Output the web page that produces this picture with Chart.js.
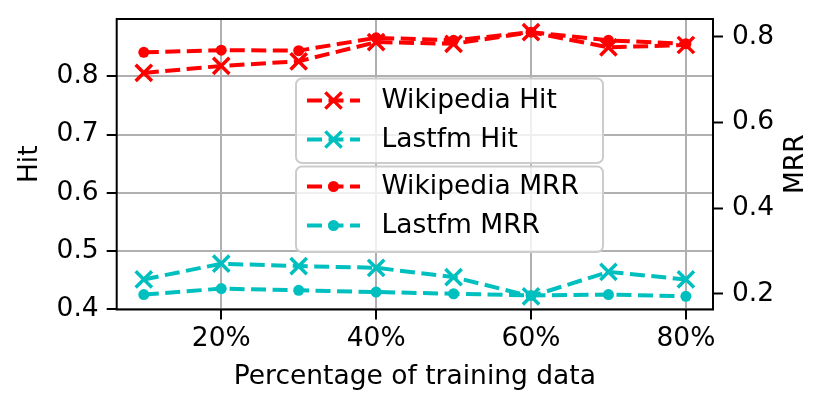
<!DOCTYPE html>
<html lang="en">
<head>
    <meta charset="UTF-8">
    <title>Hit / MRR vs training data</title>
    <script src="https://cdn.jsdelivr.net/npm/chart.js"></script>
    <style>
        html, body { margin: 0; padding: 0; background: #fff; }
        #wrap { width: 830px; height: 410px; }
    </style>
</head>
<body>
    <div id="wrap"><canvas id="hitChart" width="830" height="410"></canvas></div>

    <script>
        // values
        const trainPct   = [10, 20, 30, 40, 50, 60, 70, 80];
        const wikiHit    = [0.806, 0.818, 0.826, 0.859, 0.856, 0.876, 0.850, 0.854];
        const lastfmHit  = [0.451, 0.478, 0.474, 0.471, 0.455, 0.422, 0.464, 0.451];
        const wikiMrr    = [0.764, 0.769, 0.768, 0.798, 0.792, 0.811, 0.792, 0.784];
        const lastfmMrr  = [0.198, 0.212, 0.208, 0.204, 0.200, 0.196, 0.198, 0.194];

        const xTicks   = [20, 40, 60, 80];
        const hitTicks = [0.4, 0.5, 0.6, 0.7, 0.8];
        const mrrTicks = [0.2, 0.4, 0.6, 0.8];

        const RED = '#ff0000';
        const CYAN = '#00bfbf';
        const FONT = 'DejaVu Sans';
        const FS = 26.5;
        const DASH = [15, 6.5];

        Chart.defaults.color = '#000';
        Chart.defaults.font.family = FONT;
        Chart.defaults.font.size = FS;

        const pts = arr => trainPct.map((x, i) => ({x: x, y: arr[i]}));

        const hitStyle = color => ({
            borderColor: color, backgroundColor: color,
            borderWidth: 4, borderDash: DASH,
            pointStyle: 'crossRot', pointRadius: 11.5, pointBorderWidth: 3.5,
            pointBorderColor: color, pointBackgroundColor: color,
            yAxisID: 'y', order: 2
        });
        const mrrStyle = color => ({
            borderColor: color, backgroundColor: color,
            borderWidth: 4, borderDash: DASH,
            pointStyle: 'circle', pointRadius: 5.5, pointBorderWidth: 0,
            pointBorderColor: color, pointBackgroundColor: color,
            yAxisID: 'y1', order: 1
        });

        const datasets = [
            Object.assign({label: 'Wikipedia Hit', data: pts(wikiHit)}, hitStyle(RED)),
            Object.assign({label: 'Lastfm Hit', data: pts(lastfmHit)}, hitStyle(CYAN)),
            Object.assign({label: 'Wikipedia MRR', data: pts(wikiMrr)}, mrrStyle(RED)),
            Object.assign({label: 'Lastfm MRR', data: pts(lastfmMrr)}, mrrStyle(CYAN))
        ];

        // no extra room for the end tick labels, the frame sets the box
        const noPad = s => { s.paddingTop = 0; s.paddingBottom = 0; };

        // frame, the two legend boxes and the right axis title
        const extras = {
            id: 'extras',
            afterDatasetsDraw(chart) {
                const ctx = chart.ctx;
                const a = chart.chartArea;
                ctx.save();
                ctx.strokeStyle = '#000';
                ctx.lineWidth = 2;
                ctx.strokeRect(a.left, a.top, a.right - a.left, a.bottom - a.top);

                const boxes = [
                    {y: 78.5, h: 84.5, items: [0, 1], rows: [100.5, 139.5]},
                    {y: 166.5, h: 85.5, items: [2, 3], rows: [186.5, 225.5]}
                ];
                boxes.forEach(b => {
                    ctx.beginPath();
                    ctx.roundRect(296, b.y, 307, b.h, 6);
                    ctx.fillStyle = 'rgba(255,255,255,0.8)';
                    ctx.fill();
                    ctx.strokeStyle = '#cccccc';
                    ctx.lineWidth = 2;
                    ctx.stroke();
                    b.items.forEach((di, k) => {
                        const ds = chart.data.datasets[di];
                        const yy = b.rows[k];
                        ctx.strokeStyle = ds.borderColor;
                        ctx.lineWidth = ds.borderWidth;
                        ctx.setLineDash(DASH);
                        ctx.beginPath();
                        ctx.moveTo(307, yy);
                        ctx.lineTo(360, yy);
                        ctx.stroke();
                        ctx.setLineDash([]);
                        ctx.fillStyle = ds.pointBackgroundColor;
                        ctx.strokeStyle = ds.pointBorderColor;
                        ctx.lineWidth = ds.pointBorderWidth;
                        Chart.helpers.drawPoint(ctx, {
                            pointStyle: ds.pointStyle, radius: ds.pointRadius,
                            borderWidth: ds.pointBorderWidth, rotation: 0
                        }, 333.5, yy);
                        ctx.fillStyle = '#000';
                        ctx.font = FS + 'px "' + FONT + '"';
                        ctx.textAlign = 'left';
                        ctx.textBaseline = 'middle';
                        ctx.fillText(ds.label, 381.5, yy + 1);
                    });
                });

                ctx.translate(796, (a.top + a.bottom) / 2);
                ctx.rotate(-Math.PI / 2);
                ctx.fillStyle = '#000';
                ctx.font = FS + 'px "' + FONT + '"';
                ctx.textAlign = 'center';
                ctx.textBaseline = 'middle';
                ctx.fillText('MRR', 0, 0);
                ctx.restore();
            }
        };

        new Chart(document.getElementById('hitChart'), {
            type: 'line',
            data: { datasets: datasets },
            plugins: [extras],
            options: {
                responsive: false,
                animation: false,
                devicePixelRatio: 1,
                layout: { padding: { left: 0, right: 0, top: 19, bottom: 17 } },
                plugins: { legend: { display: false }, tooltip: { enabled: false } },
                scales: {
                    x: {
                        type: 'linear', min: 6.5, max: 83.5,
                        afterBuildTicks: s => { s.ticks = xTicks.map(v => ({value: v})); },
                        afterFit: s => { s.height = 83.5; },
                        ticks: { callback: v => v + '%', padding: 4, maxRotation: 0 },
                        grid: { color: '#b0b0b0', lineWidth: 2, tickColor: '#000', tickWidth: 2, tickLength: 10 },
                        border: { display: false },
                        title: { display: true, text: 'Percentage of training data', padding: 0 }
                    },
                    y: {
                        position: 'left', min: 0.3993, max: 0.8987,
                        afterBuildTicks: s => { s.ticks = hitTicks.map(v => ({value: v})); },
                        afterFit: s => { s.width = 116.7; noPad(s); },
                        ticks: { callback: v => v.toFixed(1), padding: 8 },
                        grid: { color: '#b0b0b0', lineWidth: 2, tickColor: '#000', tickWidth: 2, tickLength: 10 },
                        border: { display: false },
                        title: { display: true, text: 'Hit', padding: { top: 14, bottom: 0 } }
                    },
                    y1: {
                        position: 'right', min: 0.1632, max: 0.8419,
                        afterBuildTicks: s => { s.ticks = mrrTicks.map(v => ({value: v})); },
                        afterFit: s => { s.width = 117; noPad(s); },
                        ticks: { callback: v => v.toFixed(1), padding: 9 },
                        grid: { drawOnChartArea: false, tickColor: '#000', tickWidth: 2, tickLength: 10 },
                        border: { display: false }
                    }
                }
            }
        });
    </script>
</body>
</html>
